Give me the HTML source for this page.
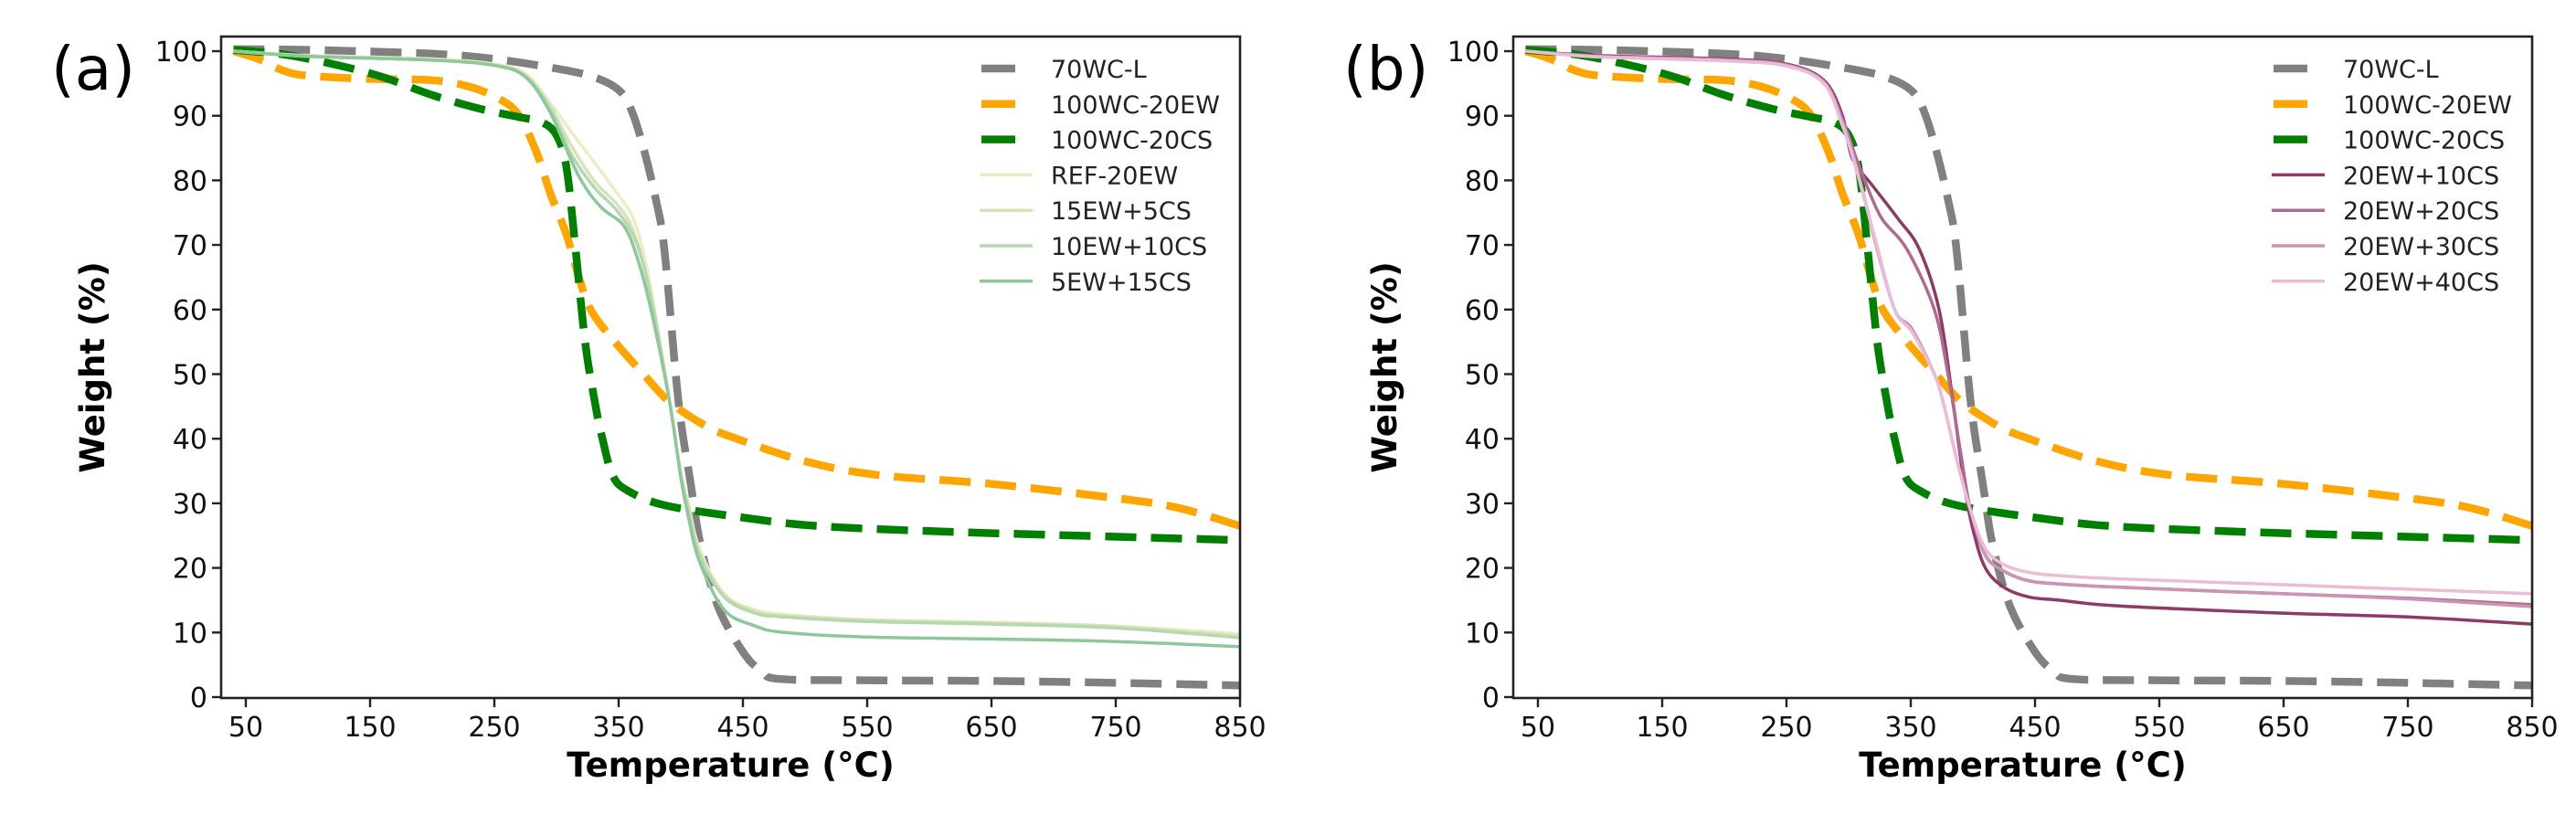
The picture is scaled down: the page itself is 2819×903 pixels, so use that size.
<!DOCTYPE html>
<html><head><meta charset="utf-8"><style>
html,body{margin:0;padding:0;background:#fff;}
svg{display:block;}
text{font-family:"DejaVu Sans","Liberation Sans",sans-serif;}
</style></head><body>
<svg id="fig" width="2819" height="903" viewBox="0 0 2819 903" xmlns="http://www.w3.org/2000/svg"></svg>
<script>
// ---- data (temperature °C, weight %) ----
const xTicks = [50,150,250,350,450,550,650,750,850];
const yTicks = [0,10,20,30,40,50,60,70,80,90,100];
const wc70T = [40,100,200,250,300,330,350,360,370,380,387,398,408,416,430,450,465,480,550,650,750,850];
const wc70W = [100.3,100.2,99.6,98.8,97.3,96,94,91,85,77,69,46,33,23.5,14,7,4,2.8,2.6,2.5,2.2,1.8];
const ew20T = [40,60,80,100,150,200,230,255,270,284,295,308,318,328,347,370,391,420,445,500,558,650,750,800,850];
const ew20W = [100,98.8,97,96.2,95.7,95.5,94.5,92.5,90,84.3,78,71.6,65,59.8,55,50,45.7,42,40,36.5,34.4,33,30.8,29.3,26.5];
const cs20T = [40,80,120,160,200,240,270,288,300,308,315,323,331,337,345,357,387,450,509,600,700,850];
const cs20W = [100.2,99.5,98,96,93.2,91,89.8,89,87,82,70,55,45.5,40,34.4,32,29.7,27.8,26.5,25.7,25.1,24.3];
// panel (a) blends
const refT = [40,100,200,250,275,295,310,328,345,362,372,379,391,400,406,415,435,460,484,550,650,750,850];
const refW = [100,99.3,98.8,98,96.5,92,88,83.4,79,74,67,60,45.7,35,30,23,16,13.5,12.8,12,11.6,11,9.8];
const ew15T = [40,100,200,250,275,295,310,330,350,362,375,391,400,406,415,435,460,484,550,650,750,850];
const ew15W = [100,99.3,98.7,97.9,96.3,91.5,86,80,76,72,63,45.7,34.5,29.5,22.5,15.8,13.3,12.6,11.9,11.5,10.9,9.5];
const ew10T = [40,100,200,250,275,295,312,330,350,365,377,391,400,406,415,435,460,484,550,650,750,850];
const ew10W = [100,99.2,98.6,97.8,96.1,91,84,79,75,70,61,45.7,34.2,29,22,15.5,13,12.4,11.7,11.3,10.7,9.2];
const ew5T = [40,100,200,250,275,295,317,335,354,365,376,391,400,406,415,435,460,484,550,650,750,850];
const ew5W = [100,99.2,98.6,97.8,96,90.5,81,76,73,68,60,45.7,34,28,21,13.5,11,10,9.3,9,8.6,7.8];
// panel (b) blends
const p10T = [40,100,200,250,280,295,303,320,340,357,373,384,393,400,410,425,445,470,518,650,750,850];
const p10W = [100,99.3,98.8,98,95.5,90,83.4,79,74,69.3,59.8,45.7,33,26,20,17,15.5,15,14.1,13,12.4,11.3];
const p20T = [40,100,200,250,280,295,305,315,327,347,369,380,390,398,410,425,445,470,518,650,750,850];
const p20W = [100,99.2,98.7,97.9,95.3,89.5,84,79,74,69.3,60,50,38,29,22,19.5,18,17.5,17,16,15.3,14.3];
const p30T = [40,100,200,250,280,295,305,317,320,337,351,369,376,388,398,410,425,445,470,518,650,750,850];
const p30W = [100,99.2,98.6,97.8,95.2,89,83,74,71.5,60,57,50,45.7,36,29,22,19.5,18,17.5,17,16,15.2,14];
const p40T = [40,100,200,250,280,295,305,317,322,337,351,369,376,388,398,410,425,445,470,518,650,750,850];
const p40W = [100,99.1,98.5,97.7,95,88.5,82.5,74,70.5,60,56.5,50,45.7,36,29,23,20.5,19.3,18.8,18.3,17.4,16.7,16];

const svg = document.getElementById('fig');
const NS = 'http://www.w3.org/2000/svg';
function mk(tag, attrs, parent){const e=document.createElementNS(NS,tag);for(const k in attrs)e.setAttribute(k,attrs[k]);(parent||svg).appendChild(e);return e;}

function pathFrom(T,W,sx,sy){
  const p=T.map((t,i)=>[sx(t),sy(W[i])]);
  let d='M'+p[0][0].toFixed(1)+','+p[0][1].toFixed(1);
  for(let i=0;i<p.length-1;i++){
    const p0=p[Math.max(0,i-1)],p1=p[i],p2=p[i+1],p3=p[Math.min(p.length-1,i+2)];
    const c1=[p1[0]+(p2[0]-p0[0])/6,p1[1]+(p2[1]-p0[1])/6];
    const c2=[p2[0]-(p3[0]-p1[0])/6,p2[1]-(p3[1]-p1[1])/6];
    d+=' C'+c1[0].toFixed(1)+','+c1[1].toFixed(1)+' '+c2[0].toFixed(1)+','+c2[1].toFixed(1)+' '+p2[0].toFixed(1)+','+p2[1].toFixed(1);
  }
  return d;
}

function panel(cfg){
  const L=cfg.left, R=cfg.left+1115, Tp=40, B=764;
  const sx=t=>L+27+(t-50)*1.36;
  const sy=w=>56+(100-w)*7.07;
  const g=mk('g',{});
  
  
  const clipId='clip'+cfg.id;
  const cp=mk('clipPath',{id:clipId},g);mk('rect',{x:L,y:Tp,width:R-L,height:B-Tp},cp);
  const plot=mk('g',{'clip-path':'url(#'+clipId+')'},g);
  const series=cfg.series;
  series.forEach(s=>{
    const el=mk('path',{d:pathFrom(s.T,s.W,sx,sy),fill:'none',stroke:s.color,'stroke-width':s.dash?8.5:s.lw,'stroke-dasharray':s.dash?'34 16':'none','stroke-linecap':'butt','stroke-linejoin':'round',opacity:s.op||1},plot);
    
    
  });
  // frame
  const fr=mk('rect',{x:L,y:Tp,width:R-L,height:B-Tp,fill:'none',stroke:'#222','stroke-width':2.6},g);
  
  
  xTicks.forEach(t=>{
    mk('line',{x1:sx(t),x2:sx(t),y1:B,y2:B+10,stroke:'#222','stroke-width':2.4},g);
    const tx=mk('text',{x:sx(t),y:806,'font-size':30,'text-anchor':'middle',fill:'#111'},g);
    tx.textContent=t;
    
    
  });
  yTicks.forEach(w=>{
    mk('line',{x1:L-10,x2:L,y1:sy(w),y2:sy(w),stroke:'#222','stroke-width':2.4},g);
    const tx=mk('text',{x:L-15,y:sy(w)+11,'font-size':30,'text-anchor':'end',fill:'#111'},g);
    tx.textContent=w;
    
    
  });
  const xl=mk('text',{x:(L+R)/2,y:850,'font-size':37,'font-weight':'bold','text-anchor':'middle',fill:'#000'},g);
  xl.textContent='Temperature (°C)';
  
  
  const yl=mk('text',{x:0,y:0,'font-size':37,'font-weight':'bold','text-anchor':'middle',fill:'#000',transform:'translate('+(L-128)+',402) rotate(-90)'},g);
  yl.textContent='Weight (%)';
  
  
  const pl=mk('text',{x:L-186,y:98,'font-size':66,fill:'#000'},g);
  pl.textContent=cfg.label;
  
  
  // legend
  const lx=L+832;
  series.forEach((s,i)=>{
    const y=75+i*38.8;
    if(s.dash){mk('line',{x1:lx,x2:lx+37,y1:y,y2:y,stroke:s.color,'stroke-width':8.5},g);}
    else{mk('line',{x1:lx-2,x2:lx+56,y1:y,y2:y,stroke:s.color,'stroke-width':s.lw,opacity:s.op||1},g);}
    const t=mk('text',{x:lx+76,y:y+10,'font-size':27,fill:'#222'},g);
    t.textContent=s.label;
    
    
  });
}

const base=[
 {T:wc70T,W:wc70W,color:'#808080',dash:true,label:'70WC-L',slug:'70wc-l'},
 {T:ew20T,W:ew20W,color:'#ffa500',dash:true,label:'100WC-20EW',slug:'100wc-20ew'},
 {T:cs20T,W:cs20W,color:'#008000',dash:true,label:'100WC-20CS',slug:'100wc-20cs'}
];
panel({id:'a',name:'panel-a',left:242,label:'(a)',series:base.concat([
 {T:refT,W:refW,color:'#ebedc6',lw:3.5,label:'REF-20EW',slug:'ref-20ew'},
 {T:ew15T,W:ew15W,color:'#d6e3b8',lw:3.5,label:'15EW+5CS',slug:'15ew-5cs'},
 {T:ew10T,W:ew10W,color:'#b5d8b1',lw:3.5,label:'10EW+10CS',slug:'10ew-10cs'},
 {T:ew5T,W:ew5W,color:'#8dc79a',lw:3.5,label:'5EW+15CS',slug:'5ew-15cs'}
])});
panel({id:'b',name:'panel-b',left:1656,label:'(b)',series:base.concat([
 {T:p10T,W:p10W,color:'#8c3a66',lw:3.5,label:'20EW+10CS',slug:'20ew-10cs'},
 {T:p20T,W:p20W,color:'#b06a92',lw:3.5,label:'20EW+20CS',slug:'20ew-20cs'},
 {T:p30T,W:p30W,color:'#cc93b6',lw:3.5,label:'20EW+30CS',slug:'20ew-30cs'},
 {T:p40T,W:p40W,color:'#ebbcd8',lw:3.5,label:'20EW+40CS',slug:'20ew-40cs'}
])});
</script>
</body></html>
